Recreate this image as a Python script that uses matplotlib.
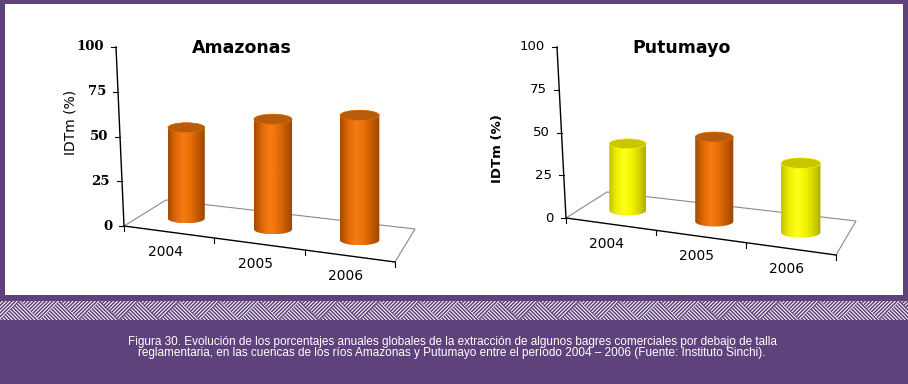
import numpy as np
import matplotlib
matplotlib.use('Agg')
import matplotlib.pyplot as plt
from matplotlib.patches import Rectangle, Polygon, Ellipse
from matplotlib.colors import LinearSegmentedColormap

# datos
anios = ['2004', '2005', '2006']
amazonas = [52, 61, 67]
putumayo = [40, 49, 39]
colores_amazonas = ['naranja', 'naranja', 'naranja']
colores_putumayo = ['amarillo', 'naranja', 'amarillo']
yticks = [0, 25, 50, 75, 100]

titulo_izq = 'Amazonas'
titulo_der = 'Putumayo'
ylabel = 'IDTm (%)'
pie = ['Figura 30. Evolución de los porcentajes anuales globales de la extracción de algunos bagres comerciales por debajo de talla',
       'reglamentaria, en las cuencas de los ríos Amazonas y Putumayo entre el período 2004 – 2006 (Fuente: Instituto Sinchi).']

morado = '#5f427b'

# sombreado de los cilindros (cuerpo, tapa)
tonos = {
    'naranja': (['#a34a00', '#dc6808', '#f67c14', '#ea7009', '#c45a00', '#9a4500'], '#b65c0c'),
    'amarillo': (['#c2c200', '#eeee00', '#ffff1e', '#f6f600', '#d8d800', '#acac00'], '#c9c500'),
}


def cilindro(ax, cx, by, h, r, e, tono):
    cuerpo, tapa = tonos[tono]
    ty = by - h
    a = np.linspace(np.pi, 0, 40)
    abajo = np.column_stack([cx + r * np.cos(a), by + e * np.sin(a)])
    a2 = np.linspace(0, np.pi, 40)
    arriba = np.column_stack([cx + r * np.cos(a2), ty - e * np.sin(a2)])
    silueta = Polygon(np.vstack([abajo, arriba]), closed=True, facecolor='none',
                      edgecolor='none', zorder=3)
    ax.add_patch(silueta)
    cmap = LinearSegmentedColormap.from_list('c', cuerpo)
    grad = np.linspace(0, 1, 200)[None, :]
    im = ax.imshow(grad, cmap=cmap, extent=[cx - r, cx + r, by + e, ty - e],
                   aspect='auto', interpolation='bilinear', zorder=3)
    im.set_clip_path(silueta)
    ax.add_patch(Ellipse((cx, ty), 2 * r, 2 * e, facecolor=tapa,
                         edgecolor=cuerpo[3], lw=0.4, zorder=4))


def grafico(ax, valores, colores, FL, FR, BR, BL, tope, titulo, pos_titulo,
            pos_ylab, fuente_ticks, peso_ticks, peso_ylab, tam_ylab):
    FL, FR, BR, BL, tope = [np.array(p, float) for p in (FL, FR, BR, BL, tope)]
    n = len(valores)

    def piso(u, w):
        t = u / n
        frente = FL + (FR - FL) * t
        fondo = BL + (BR - BL) * t
        return frente + (fondo - frente) * w

    escala = (FL[1] - tope[1]) / 100.0

    # piso
    ax.plot(*zip(FL, BL, BR, FR), color='#8a8a8a', lw=0.8, zorder=2)
    ax.plot(*zip(FL, FR), color='black', lw=1.0, zorder=2)
    ax.plot(*zip(FL, tope), color='black', lw=1.0, zorder=2)

    # eje de valores
    for v in yticks:
        p = FL + (tope - FL) * v / 100.0
        ax.plot([p[0] - 5, p[0]], [p[1], p[1]], color='black', lw=0.8, zorder=2)
        ax.text(p[0] - 12, p[1], str(v), ha='right', va='center', fontsize=9.5,
                family=fuente_ticks, fontweight=peso_ticks)

    # eje de categorias
    for k in range(n + 1):
        p = piso(k, 0)
        ax.plot([p[0], p[0]], [p[1], p[1] + 5], color='black', lw=0.8, zorder=2)
    for i, lab in enumerate(anios):
        p = piso(i + 0.5, 0)
        ax.text(p[0] - 4, p[1] + 20, lab, ha='center', va='center', fontsize=10)

    # cilindros
    for i, (v, c) in enumerate(zip(valores, colores)):
        u, w = i + 0.5, 0.5
        m = (1 + 0.1 * u / n) * (1 - 0.08 * w)
        cx, by = piso(u, w)
        cilindro(ax, cx - 2, by, v * escala * m, 18.9 * m, 5.0 * m, c)

    ax.text(pos_titulo[0], pos_titulo[1], titulo, ha='center', va='center',
            fontsize=12.5, fontweight='bold')
    ax.text(pos_ylab[0], pos_ylab[1], ylabel, ha='center', va='center',
            rotation=90, fontsize=tam_ylab, fontweight=peso_ylab)


fig = plt.figure(figsize=(9.08, 3.84), dpi=100, facecolor=morado)
ax = fig.add_axes([0, 0, 1, 1])
ax.axis('off')

ax.add_patch(Rectangle((5, 4), 898, 291, facecolor='white', edgecolor='none', zorder=0))

grafico(ax, amazonas, colores_amazonas, (124, 226), (395, 262), (415, 229), (166, 200),
        (116, 47), titulo_izq, (242, 48), (70, 122), 'DejaVu Serif', 'bold', 'normal', 10)
grafico(ax, putumayo, colores_putumayo, (566, 218), (836, 255), (856, 221), (607, 192),
        (557, 47), titulo_der, (682, 48), (497, 149), 'DejaVu Sans', 'normal', 'bold', 9.5)

# franja en zigzag
plt.rcParams['hatch.linewidth'] = 0.75
banda = Rectangle((0, 301), 908, 19, facecolor=morado, edgecolor='none', zorder=1)
ax.add_patch(banda)
for k in range(-1, 24):
    x0 = k * 40
    sube = Polygon([(x0, 320), (x0 + 20, 301), (x0 + 40, 320)], closed=True,
                   facecolor=morado, edgecolor='white', lw=0, hatch='\\' * 9, zorder=1)
    baja = Polygon([(x0 + 20, 301), (x0 + 40, 320), (x0 + 60, 301)], closed=True,
                   facecolor=morado, edgecolor='white', lw=0, hatch='/' * 9, zorder=1)
    for p in (sube, baja):
        ax.add_patch(p)
        p.set_clip_path(banda)

ax.text(452, 342, pie[0], ha='center', va='center', color='white', fontsize=8.5,
        family='Liberation Sans')
ax.text(452, 353, pie[1], ha='center', va='center', color='white', fontsize=8.5,
        family='Liberation Sans')

ax.set_xlim(0, 908)
ax.set_ylim(384, 0)
fig.savefig('out.png', dpi=100, facecolor=morado)
